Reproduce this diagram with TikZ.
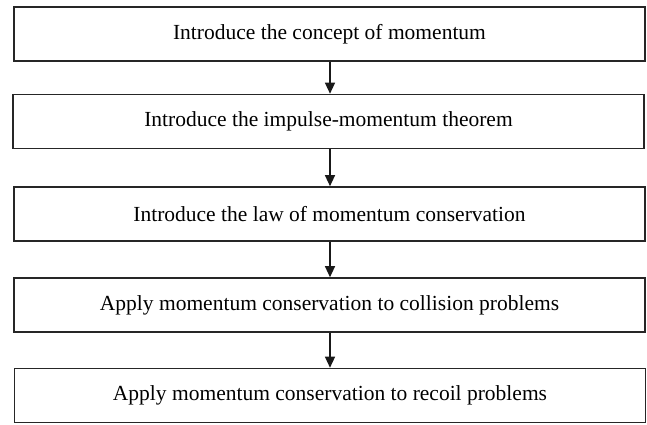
\documentclass[tikz,border=0pt]{standalone}
\usepackage{fontspec}
\setmainfont{Liberation Serif}
\usetikzlibrary{arrows.meta}
\begin{document}
\begin{tikzpicture}[x=1pt,y=-1pt,
  stepbox/.style={draw=black!85,line width=1.6pt,minimum width=631pt,minimum height=54pt,inner sep=0pt,font=\fontsize{21.5}{24}\selectfont},
  conn/.style={draw=black!90,line width=1.2pt,-{Triangle[width=10pt,length=11pt]}}]
\useasboundingbox (0,0) rectangle (647,424);
\node[stepbox] (a) at (329.5,34) {Introduce the concept of momentum};
\node[stepbox] (b) at (328.5,121.5) {Introduce the impulse-momentum theorem};
\node[stepbox] (c) at (329.5,214) {Introduce the law of momentum conservation};
\node[stepbox] (d) at (329.5,305) {Apply momentum conservation to collision problems};
\node[stepbox] (e) at (330,395.5) {Apply momentum conservation to recoil problems};
\draw[conn] (a.south -| 330,0) -- (b.north -| 330,0);
\draw[conn] (b.south -| 330,0) -- (c.north -| 330,0);
\draw[conn] (c.south -| 330,0) -- (d.north -| 330,0);
\draw[conn] (d.south -| 330,0) -- (e.north -| 330,0);
\end{tikzpicture}
\end{document}
